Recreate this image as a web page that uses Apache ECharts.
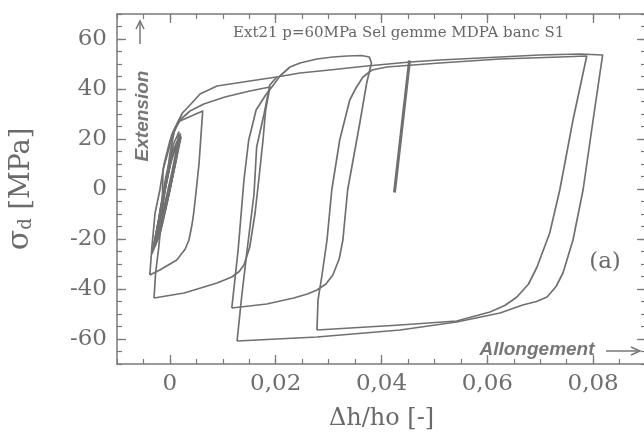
<!DOCTYPE html>
<html><head><meta charset="utf-8">
<script src="https://cdn.jsdelivr.net/npm/echarts@6/dist/echarts.min.js"></script>
<style>html,body{margin:0;padding:0;background:#ffffff}#c{width:644px;height:434px}</style>
</head><body><div id="c"></div>
<script>
// ---- data (strain Δh/ho, stress σd in MPa) ----
const xTicks = [0, 0.02, 0.04, 0.06, 0.08];
const yTicks = [-60, -40, -20, 0, 20, 40, 60];
const smallLoop1 = [[-0.0032,-24.4],[-0.0019,-18.4],[-0.0004,-4.4],[0.0010,9.6],[0.0021,20.8],[0.0008,16.4],[-0.0006,3.6],[-0.0019,-10.4],[-0.0032,-24.4]];
const smallLoop2 = [[-0.0027,-21.2],[-0.0015,-14.4],[0,-0.4],[0.0011,11.6],[0.0017,22.8],[0.0006,17.6],[-0.0008,4.4],[-0.0019,-9.2],[-0.0027,-21.2]];
const smallLoop3 = [[-0.0023,-17.2],[-0.0010,-6.4],[0.0004,6.8],[0.0015,18.8],[0.0002,11.6],[-0.0011,-2.4],[-0.0023,-17.2]];
const smallLoop4 = [[-0.0030,-22],[-0.0017,-15],[-0.0002,-2],[0.0012,12],[0.0019,21],[0.0004,14],[-0.0009,2],[-0.0021,-12],[-0.0030,-22]];
const smallLoop5 = [[-0.0025,-19],[-0.0012,-9],[0.0002,4],[0.0013,15],[0.0016,20],[0.0001,10],[-0.0013,-4],[-0.0025,-19]];
const smallLoop6 = [[-0.0034,-26],[-0.0021,-19],[-0.0006,-5],[0.0008,8],[0.0018,19],[0.0005,15],[-0.0008,1],[-0.0022,-13],[-0.0034,-26]];
const smallLoop7 = [[-0.0028,-23],[-0.0014,-12],[0.0001,1],[0.0012,13],[0.0020,22],[0.0007,16],[-0.0005,5],[-0.0018,-8],[-0.0028,-23]];
const loop30 = [[-0.0038,-34.4],[-0.0019,-32.4],[0.0013,-28.4],[0.0029,-24],[0.0036,-20.4],[0.0042,-14],[0.0045,-9.6],[0.0049,-2],[0.0055,10],[0.0062,31.2],[0.0019,27.2],[0.0010,24.8],[0.0004,22],[0,19.2],[-0.0011,10],[-0.0019,-0.4],[-0.0028,-9.6],[-0.0034,-23.2],[-0.0038,-34.4]];
const loop44 = [[-0.0030,-43.6],[0.0027,-41.6],[0.0089,-37.6],[0.0117,-35.2],[0.0131,-33],[0.0140,-30.4],[0.0151,-23.2],[0.0161,-9.6],[0.0168,3.6],[0.0176,19.6],[0.0181,31.6],[0.0189,40.8],[0.0151,39.2],[0.0104,36.8],[0.0064,34],[0.0038,31.2],[0.0019,27.6],[0.0008,22.8],[0,14],[-0.0010,-2],[-0.0015,-9.6],[-0.0021,-23.2],[-0.0027,-33.6],[-0.0030,-43.6]];
const loop48 = [[0.0117,-47.6],[0.0183,-46],[0.0234,-43.6],[0.0260,-42],[0.0278,-40.4],[0.0295,-38],[0.0308,-34.4],[0.0320,-28],[0.0327,-20.4],[0.0336,-0.4],[0.0359,26.4],[0.0372,42.4],[0.0381,50.4],[0.0377,52.8],[0.0362,53.4],[0.0335,53.2],[0.0308,52.8],[0.0278,52],[0.0246,50.4],[0.0227,48.8],[0.0208,45.2],[0.0197,42],[0.0181,37.6],[0.0163,31.6],[0.0149,19.6],[0.0140,3.6],[0.0129,-24.4],[0.0117,-47.6]];
const loop61 = [[0.0127,-60.8],[0.0278,-59.2],[0.0435,-56.4],[0.0542,-53.2],[0.0624,-49.6],[0.0667,-46.4],[0.0693,-45],[0.0713,-43.2],[0.0730,-39],[0.0743,-33.6],[0.0762,-20.4],[0.0781,-0.4],[0.0800,27.6],[0.0818,53.6],[0.0775,54],[0.0699,53.6],[0.0624,52.8],[0.0510,51.6],[0.0454,50.8],[0.0372,49.2],[0.0302,47.6],[0.0246,46.4],[0.0202,44.8],[0.0189,41.6],[0.0178,30],[0.0164,16.8],[0.0159,-2],[0.0146,-24.4],[0.0136,-42.4],[0.0127,-60.8]];
const loop57 = [[0.0278,-56.4],[0.0435,-54.4],[0.0542,-52.8],[0.0605,-49.2],[0.0633,-46.6],[0.0656,-43.2],[0.0678,-38],[0.0694,-31.2],[0.0718,-17.6],[0.0737,-0.4],[0.0762,27.6],[0.0788,53.2],[0.0737,52.8],[0.0624,52],[0.0510,50.4],[0.0435,49.2],[0.0410,48.8],[0.0382,47.6],[0.0365,44.8],[0.0352,40.5],[0.0340,35.6],[0.0321,19.6],[0.0306,-0.4],[0.0297,-20.4],[0.0287,-35.2],[0.0280,-44.4],[0.0278,-56.4]];
const envelope = [[-0.0015,-10],[-0.0013,7.6],[0,17.6],[0.0013,26],[0.0024,30.5],[0.0038,33.6],[0.0057,38],[0.0089,41.2],[0.0151,43.2],[0.0202,44.8]];
const spike = [[0.04245,-1.4],[0.0453,51.4]];

// ---- chart ----
const GRAY = '#707070';
const AX = '#7a7a7a';
const SERIF = '"DejaVu Serif", serif';
function mk(data, w) {
  return { type: 'line', data: data, xAxisIndex: 0, yAxisIndex: 0, showSymbol: false, symbol: 'none',
    smooth: false, silent: true, lineStyle: { color: GRAY, width: w || 1.7, join: 'round' } };
}
const xFmt = v => (Math.abs(v) < 1e-9 ? '0' : v.toFixed(2).replace('.', ','));
const gridRect = { left: 117, top: 14, width: 529, height: 350, containLabel: false, outerBoundsMode: 'none' };
function majorX(pos, labels) {
  return { gridIndex: 0, type: 'value', position: pos, min: -0.01, max: 0.09,
    axisLine: { show: true, onZero: false, lineStyle: { color: AX, width: 1.5 } },
    axisTick: { show: true, inside: true, length: 9, customValues: xTicks, lineStyle: { color: AX, width: 1.3 } },
    axisLabel: { show: labels, customValues: xTicks, formatter: xFmt, color: '#6e6e6e', fontFamily: SERIF, fontSize: 23, margin: 9 },
    splitLine: { show: false } };
}
function minorX(pos) {
  return { gridIndex: 1, type: 'value', position: pos, min: -0.01, max: 0.09, interval: 0.005,
    axisLine: { show: false, onZero: false }, axisTick: { show: true, inside: true, length: 5, lineStyle: { color: AX, width: 1.2 } },
    axisLabel: { show: false }, splitLine: { show: false } };
}
function majorY(pos, labels) {
  return { gridIndex: 0, type: 'value', position: pos, min: -70, max: 70,
    axisLine: { show: true, onZero: false, lineStyle: { color: AX, width: 1.5 } },
    axisTick: { show: true, inside: true, length: 9, customValues: yTicks, lineStyle: { color: AX, width: 1.3 } },
    axisLabel: { show: labels, customValues: yTicks, color: '#6e6e6e', fontFamily: SERIF, fontSize: 23, margin: 10 },
    splitLine: { show: false } };
}
function minorY(pos) {
  return { gridIndex: 1, type: 'value', position: pos, min: -70, max: 70, interval: 5,
    axisLine: { show: false, onZero: false }, axisTick: { show: true, inside: true, length: 5, lineStyle: { color: AX, width: 1.2 } },
    axisLabel: { show: false }, splitLine: { show: false } };
}
const xb = majorX('bottom', true);
xb.name = 'Δh/ho [-]'; xb.nameLocation = 'middle'; xb.nameGap = 43;
xb.nameTextStyle = { color: '#6a6a6a', fontFamily: SERIF, fontSize: 24 };
const yl = majorY('left', true);
yl.name = '{s|σ}{d|d}{t| [MPa]}'; yl.nameLocation = 'middle'; yl.nameRotate = 90; yl.nameGap = 82;
yl.nameTextStyle = { color: '#6a6a6a', fontFamily: SERIF, fontSize: 27,
  rich: { s: { fontFamily: SERIF, fontSize: 30, color: '#6a6a6a', verticalAlign: 'bottom' },
          d: { fontFamily: SERIF, fontSize: 18, color: '#6a6a6a', verticalAlign: 'bottom', lineHeight: 8 },
          t: { fontFamily: SERIF, fontSize: 27, color: '#6a6a6a', verticalAlign: 'bottom' } } };

const option = {
  animation: false,
  backgroundColor: '#ffffff',
  grid: [Object.assign({}, gridRect), Object.assign({}, gridRect)],
  xAxis: [xb, majorX('top', false), minorX('bottom'), minorX('top')],
  yAxis: [yl, majorY('right', false), minorY('left'), minorY('right')],
  series: [mk(smallLoop1), mk(smallLoop2), mk(smallLoop3), mk(smallLoop4), mk(smallLoop5), mk(smallLoop6), mk(smallLoop7),
           mk(loop30), mk(loop44), mk(loop48), mk(loop61), mk(loop57), mk(envelope), mk(spike, 3)],
  graphic: [
    { type: 'text', x: 233, y: 33, silent: true,
      style: { text: 'Ext21 p=60MPa Sel gemme MDPA banc S1', font: '15px "DejaVu Serif"', fill: '#666', align: 'left', verticalAlign: 'middle' } },
    { type: 'text', x: 143, y: 116, rotation: Math.PI / 2, silent: true,
      style: { text: 'Extension', font: 'italic bold 19px "Liberation Sans"', fill: '#777', align: 'center', verticalAlign: 'middle' } },
    { type: 'line', silent: true, shape: { x1: 140, y1: 44, x2: 140, y2: 21 }, style: { stroke: '#777', lineWidth: 1.5 } },
    { type: 'polyline', silent: true, shape: { points: [[136, 29], [140, 21], [144, 29]] }, style: { stroke: '#777', lineWidth: 1.5, fill: null } },
    { type: 'text', x: 537, y: 350, silent: true,
      style: { text: 'Allongement', font: 'italic bold 19px "Liberation Sans"', fill: '#777', align: 'center', verticalAlign: 'middle' } },
    { type: 'line', silent: true, shape: { x1: 606, y1: 351, x2: 640, y2: 351 }, style: { stroke: '#777', lineWidth: 1.5 } },
    { type: 'polyline', silent: true, shape: { points: [[631, 347], [640, 351], [631, 355]] }, style: { stroke: '#777', lineWidth: 1.5, fill: null } },
    { type: 'text', x: 605, y: 262, silent: true,
      style: { text: '(a)', font: '23px "DejaVu Serif"', fill: '#6a6a6a', align: 'center', verticalAlign: 'middle' } }
  ]
};
const chart = echarts.init(document.getElementById('c'), null, { renderer: 'canvas' });
chart.setOption(option);
</script>
</body></html>
